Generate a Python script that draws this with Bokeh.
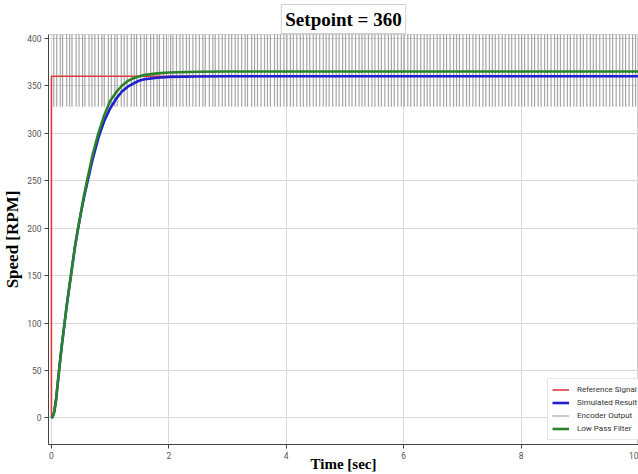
from bokeh.plotting import figure
from bokeh.models import Legend, LegendItem, SingleIntervalTicker, ColumnDataSource
from bokeh.embed import file_html
from bokeh.resources import INLINE

# ---- data ----
ref_t = [0.0, 0.0, 10.0]
ref_v = [0.0, 360.0, 360.0]

sim_t = [0.0, 0.02, 0.05, 0.08, 0.11, 0.14, 0.18, 0.22, 0.26, 0.30, 0.35, 0.40, 0.45, 0.50, 0.55,
         0.60, 0.70, 0.80, 0.90, 1.00, 1.10, 1.20, 1.30, 1.40, 1.50, 1.60, 1.80, 2.00, 2.50, 3.00,
         4.0, 5.0, 6.0, 7.0, 8.0, 9.0, 10.0]
sim_v = [0.0, 1.0, 7.0, 20.0, 38.0, 56.0, 78.0, 98.0, 118.0, 136.0, 158.0, 180.0, 198.0, 215.0, 231.0,
         245.0, 272.0, 295.0, 313.0, 326.0, 336.0, 344.0, 349.0, 352.5, 355.5, 357.0, 358.5, 359.3, 359.8, 360.0,
         360.0, 360.0, 360.0, 360.0, 360.0, 360.0, 360.0]

lpf_t = sim_t
lpf_v = [0.0, 1.0, 7.0, 20.0, 38.0, 56.0, 78.0, 98.0, 118.0, 136.0, 158.0, 180.0, 199.0, 216.0, 233.0,
         248.0, 277.0, 300.0, 319.0, 334.0, 343.0, 350.0, 355.0, 358.0, 360.0, 361.5, 363.0, 364.0, 364.8, 365.0,
         365.0, 365.0, 365.0, 365.0, 365.0, 365.0, 365.0]

enc_t = [0.04, 0.09, 0.15, 0.19, 0.26, 0.31, 0.35, 0.42, 0.47, 0.53, 0.57, 0.64, 0.69, 0.74, 0.80, 0.86,
         0.90, 0.97, 1.02, 1.08, 1.12, 1.19, 1.24, 1.29, 1.36, 1.41, 1.45, 1.52, 1.58, 1.62, 1.69, 1.74,
         1.80, 1.84, 1.91, 1.96, 2.03, 2.07, 2.13, 2.19, 2.24, 2.30, 2.35, 2.41, 2.46, 2.52, 2.58, 2.62,
         2.69, 2.75, 2.79, 2.85, 2.91, 2.96, 3.02, 3.07, 3.13, 3.18, 3.24, 3.30, 3.34, 3.41, 3.46, 3.51,
         3.57, 3.63, 3.68, 3.73, 3.80, 3.85, 3.90, 3.96, 4.01, 4.07, 4.12, 4.18, 4.24, 4.29, 4.35, 4.40,
         4.46, 4.51, 4.57, 4.63, 4.68, 4.73, 4.79, 4.85, 4.90, 4.96, 5.01, 5.07, 5.12, 5.18, 5.24, 5.29,
         5.34, 5.40, 5.46, 5.51, 5.57, 5.62, 5.68, 5.74, 5.79, 5.84, 5.90, 5.96, 6.01, 6.07, 6.12, 6.18,
         6.23, 6.29, 6.35, 6.40, 6.45, 6.51, 6.57, 6.62, 6.68, 6.73, 6.79, 6.85, 6.90, 6.95, 7.01, 7.07,
         7.12, 7.18, 7.23, 7.29, 7.35, 7.40, 7.46, 7.51, 7.56, 7.62, 7.68, 7.73, 7.79, 7.84, 7.90, 7.96,
         8.01, 8.06, 8.12, 8.18, 8.23, 8.29, 8.34, 8.40, 8.45, 8.51, 8.57, 8.62, 8.67, 8.73, 8.79, 8.84,
         8.90, 8.95, 9.01, 9.06, 9.12, 9.18, 9.23, 9.28, 9.34, 9.40, 9.45, 9.51, 9.56, 9.62, 9.68, 9.73,
         9.78, 9.84, 9.90, 9.95]
enc_low = 328.0
enc_high = 404.0

title_text = "Setpoint = 360"
x_label = "Time [sec]"
y_label = "Speed [RPM]"
legend_labels = ["Reference Signal", "Simulated Result", "Encoder Output", "Low Pass Filter"]

# ---- figure ----
p = figure(width=638, height=474, x_range=(-0.05, 10.0), y_range=(-28, 404),
           output_backend="svg", toolbar_location=None, title=title_text,
           min_border_left=46, min_border_right=0, min_border_top=34, min_border_bottom=28)
p.background_fill_color = "white"
p.border_fill_color = "white"
p.outline_line_color = "#d0d0d0"

p.title.align = "center"
p.title.text_font = "Liberation Serif"
p.title.text_font_style = "bold"
p.title.text_font_size = "19px"
p.title.text_color = "black"
p.title.background_fill_color = "white"
p.title.border_line_color = "#d0d0d0"
p.title.padding = 4
p.title.standoff = 2

for ax, iv in ((p.xaxis, 2), (p.yaxis, 50)):
    ax.ticker = SingleIntervalTicker(interval=iv)
    ax.minor_tick_line_color = None
    ax.major_tick_out = 4
    ax.major_tick_in = 0
    ax.major_tick_line_color = "#444444"
    ax.axis_line_color = "#444444"
    ax.major_label_text_font = "Roboto"
    ax.major_label_text_font_size = "8.5px"
    ax.major_label_text_color = "#555555"
    ax.major_label_standoff = 3
    ax.axis_label_text_font = "Liberation Serif"
    ax.axis_label_text_font_style = "bold"
    ax.axis_label_text_color = "black"

p.xaxis.axis_label = x_label
p.xaxis.axis_label_text_font_size = "15px"
p.xaxis.axis_label_standoff = -6
p.yaxis.axis_label = y_label
p.yaxis.axis_label_text_font_size = "17px"
p.yaxis.axis_label_standoff = 2

p.xgrid.ticker = SingleIntervalTicker(interval=2)
p.ygrid.ticker = SingleIntervalTicker(interval=50)
p.grid.grid_line_color = "#d8d8d8"
p.grid.grid_line_width = 1

enc_src = ColumnDataSource(dict(x=enc_t, y0=[enc_low] * len(enc_t), y1=[enc_high] * len(enc_t)))
r_enc = p.segment(x0="x", y0="y0", x1="x", y1="y1", source=enc_src,
                  line_color="#8a8a8a", line_alpha=0.75, line_width=1.2)
r_ref = p.line(ref_t, ref_v, line_color="#e03a3a", line_width=1.6)
r_sim = p.line(sim_t, sim_v, line_color="#1f1fd0", line_width=2.6)
r_lpf = p.line(lpf_t, lpf_v, line_color="#2a822a", line_width=2.6)

legend = Legend(items=[
    LegendItem(label=legend_labels[0], renderers=[r_ref]),
    LegendItem(label=legend_labels[1], renderers=[r_sim]),
    LegendItem(label=legend_labels[2], renderers=[r_enc]),
    LegendItem(label=legend_labels[3], renderers=[r_lpf]),
], location=(499, 4))
legend.label_text_font = "Roboto"
legend.label_text_font_size = "8px"
legend.label_text_color = "#333333"
legend.label_height = 13
legend.glyph_height = 13
legend.glyph_width = 17
legend.label_standoff = 8
legend.spacing = 0
legend.padding = 4
legend.margin = 0
legend.border_line_color = "#cccccc"
legend.background_fill_color = "white"
legend.background_fill_alpha = 0.9
p.add_layout(legend)

open("out.html", "w").write(file_html(p, INLINE))
